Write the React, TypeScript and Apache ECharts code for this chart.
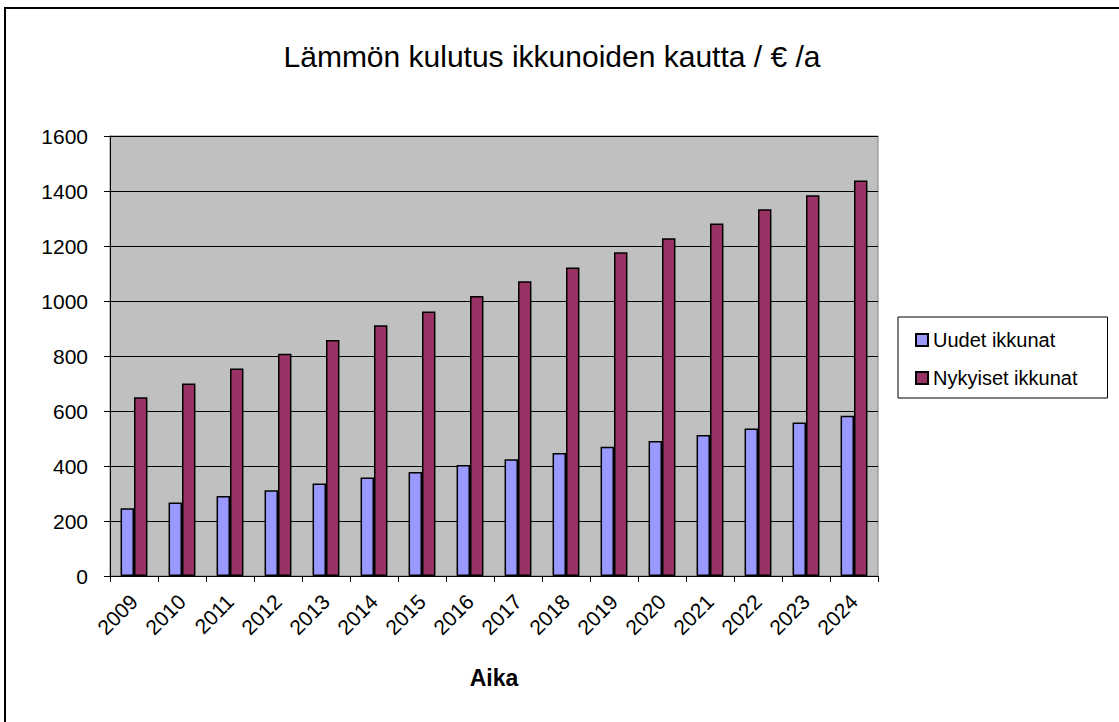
import React, { useEffect, useRef } from "react";
import * as echarts from "echarts";

const years = ["2009","2010","2011","2012","2013","2014","2015","2016","2017","2018","2019","2020","2021","2022","2023","2024"];
const uudet = [246, 267, 291, 312, 336, 358, 378, 404, 425, 447, 470, 491, 513, 536, 558, 583];
const nykyiset = [650, 700, 755, 808, 858, 912, 962, 1018, 1072, 1122, 1177, 1228, 1282, 1334, 1385, 1438];
const seriesNames = ["Uudet ikkunat", "Nykyiset ikkunat"];
const titleText = "Lämmön kulutus ikkunoiden kautta / € /a";
const xName = "Aika";

const FONT = "Liberation Sans, Arial, sans-serif";

export default function App() {
  const ref = useRef<HTMLDivElement>(null);
  useEffect(() => {
    if (!ref.current) return;
    const chart = echarts.init(ref.current, null, { renderer: "svg" });
    chart.setOption({
      animation: false,
      backgroundColor: "#ffffff",
      title: {
        text: titleText,
        left: 547,
        textAlign: "center",
        top: 36,
        textStyle: { fontFamily: FONT, fontSize: 30, fontWeight: "normal", color: "#000" },
      },
      graphic: [
        {
          type: "rect",
          shape: { x: 5, y: 8, width: 1200, height: 800 },
          style: { fill: "none", stroke: "#000", lineWidth: 2 },
          silent: true,
          z: 100,
        },
      ],
      legend: {
        orient: "vertical",
        left: 898,
        top: 317,
        padding: [13, 30, 10, 17],
        itemWidth: 12,
        itemHeight: 12,
        itemGap: 18,
        icon: "rect",
        borderColor: "#000",
        borderWidth: 1,
        textStyle: { fontFamily: FONT, fontSize: 20, color: "#000" },
        data: seriesNames,
      },
      grid: {
        left: 110,
        right: 241,
        top: 136,
        bottom: 146,
        show: true,
        backgroundColor: "#C0C0C0",
        borderColor: "#808080",
        borderWidth: 1,
      },
      xAxis: {
        type: "category",
        data: years,
        name: xName,
        nameLocation: "middle",
        nameGap: 90,
        nameTextStyle: { fontFamily: FONT, fontSize: 23, fontWeight: "bold", color: "#000" },
        axisLine: { lineStyle: { color: "#000", width: 1 } },
        axisTick: { show: true, length: 6, lineStyle: { color: "#000" } },
        axisLabel: { rotate: 45, fontFamily: FONT, fontSize: 21, color: "#000", margin: 22 },
      },
      yAxis: {
        type: "value",
        min: 0,
        max: 1600,
        interval: 200,
        axisLine: { show: true, lineStyle: { color: "#000" } },
        axisTick: { show: true, length: 6, lineStyle: { color: "#000" } },
        axisLabel: { fontFamily: FONT, fontSize: 21, color: "#000", margin: 22, formatter: (v: number) => String(v) },
        splitLine: { show: true, lineStyle: { color: "#000", width: 1 } },
      },
      series: [
        {
          name: seriesNames[0],
          type: "bar",
          data: uudet,
          barGap: "0%",
          barCategoryGap: "44%",
          itemStyle: { color: "#9999FF", borderColor: "#000", borderWidth: 1.5 },
        },
        {
          name: seriesNames[1],
          type: "bar",
          data: nykyiset,
          barGap: "0%",
          barCategoryGap: "44%",
          itemStyle: { color: "#993366", borderColor: "#000", borderWidth: 1.5 },
        },
      ],
    });
    return () => chart.dispose();
  }, []);
  return <div ref={ref} style={{ position: "absolute", left: 0, top: 0, width: 1119, height: 722 }} />;
}
